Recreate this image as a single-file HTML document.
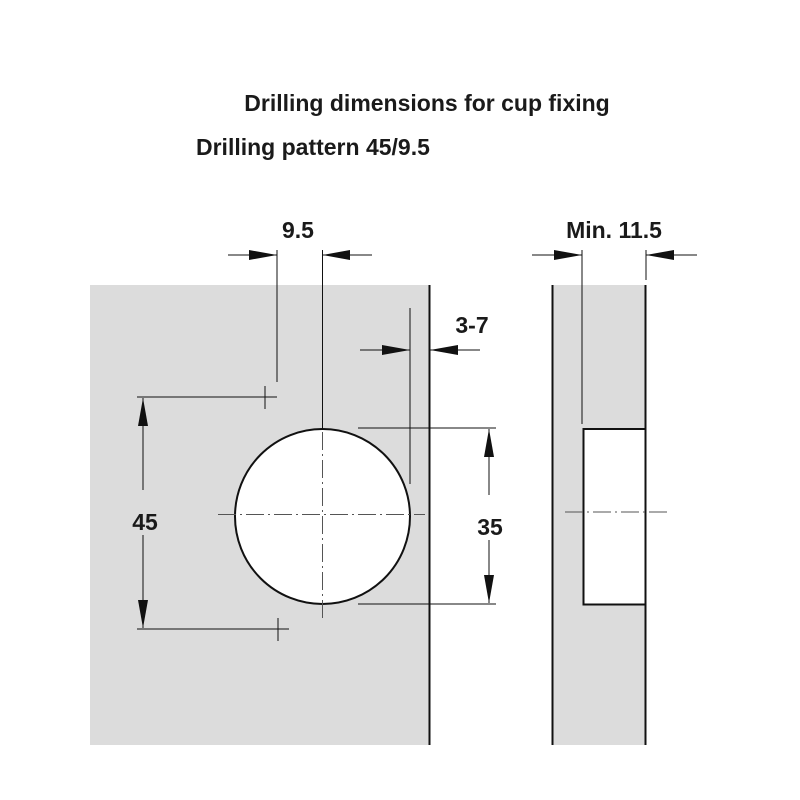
<!DOCTYPE html>
<html><head><meta charset="utf-8"><style>
html,body{margin:0;padding:0;background:#fff;}
svg{display:block;}
text{font-family:"Liberation Sans",Arial,sans-serif;font-weight:bold;fill:#1a1a1a;}
</style></head><body>
<svg width="800" height="800" viewBox="0 0 800 800" xmlns="http://www.w3.org/2000/svg">
<text x="427" y="111" font-size="23" text-anchor="middle">Drilling dimensions for cup fixing</text>
<text x="196" y="155" font-size="23">Drilling pattern 45/9.5</text>

<!-- left panel -->
<rect x="90" y="285" width="340" height="460" fill="#dcdcdc"/>
<line x1="429.5" y1="285" x2="429.5" y2="745" stroke="#111" stroke-width="2"/>
<circle cx="322.5" cy="516.5" r="87.5" fill="#fff" stroke="#111" stroke-width="2"/>

<g stroke="#111" stroke-width="1" fill="none">
<line x1="277" y1="250" x2="277" y2="382"/>
<line x1="322.5" y1="250" x2="322.5" y2="429"/>
<line x1="228" y1="255" x2="277" y2="255"/>
<line x1="372" y1="255" x2="322.5" y2="255"/>
<line x1="410" y1="308" x2="410" y2="484"/>
<line x1="360" y1="350" x2="410" y2="350"/>
<line x1="480" y1="350" x2="430" y2="350"/>
<line x1="137" y1="397" x2="277" y2="397"/>
<line x1="265" y1="386" x2="265" y2="409"/>
<line x1="137" y1="629" x2="289" y2="629"/>
<line x1="278" y1="618" x2="278" y2="641"/>
<line x1="143" y1="490" x2="143" y2="398"/>
<line x1="143" y1="535" x2="143" y2="628"/>
<line x1="358" y1="428" x2="496" y2="428"/>
<line x1="358" y1="604" x2="496" y2="604"/>
<line x1="489" y1="495" x2="489" y2="429"/>
<line x1="489" y1="540" x2="489" y2="603"/>
<line x1="218" y1="514.5" x2="425" y2="514.5" stroke="#555" stroke-dasharray="18,4,2,4"/>
<line x1="322.5" y1="432" x2="322.5" y2="618" stroke="#555" stroke-dasharray="18,4,2,4"/>
</g>
<g fill="#111">
<polygon points="249,250 277,255 249,260"/>
<polygon points="350,250 322.5,255 350,260"/>
<polygon points="382,345 410,350 382,355"/>
<polygon points="458,345 430,350 458,355"/>
<polygon points="138,426 143,398 148,426"/>
<polygon points="138,600 143,628 148,600"/>
<polygon points="484,457 489,429 494,457"/>
<polygon points="484,575 489,603 494,575"/>
<polygon points="554,250 582,255 554,260"/>
<polygon points="674,250 646,255 674,260"/>
</g>
<text x="298" y="238" font-size="23" text-anchor="middle">9.5</text>
<text x="472" y="333" font-size="23" text-anchor="middle">3-7</text>
<text x="145" y="530" font-size="23" text-anchor="middle">45</text>
<text x="490" y="535" font-size="23" text-anchor="middle">35</text>

<!-- right panel -->
<rect x="552" y="285" width="94" height="460" fill="#dcdcdc"/>
<rect x="583.5" y="429" width="62" height="175.5" fill="#fff" stroke="#111" stroke-width="2"/>
<line x1="552.5" y1="285" x2="552.5" y2="745" stroke="#111" stroke-width="2"/>
<line x1="645.5" y1="285" x2="645.5" y2="745" stroke="#111" stroke-width="2"/>
<g stroke="#111" stroke-width="1" fill="none">
<line x1="582" y1="250" x2="582" y2="424"/>
<line x1="646" y1="250" x2="646" y2="280"/>
<line x1="532" y1="255" x2="582" y2="255"/>
<line x1="697" y1="255" x2="646" y2="255"/>
<line x1="565" y1="512" x2="670" y2="512" stroke="#555" stroke-dasharray="18,4,2,4"/>
</g>
<text x="614" y="238" font-size="23" text-anchor="middle">Min. 11.5</text>
</svg>
</body></html>
